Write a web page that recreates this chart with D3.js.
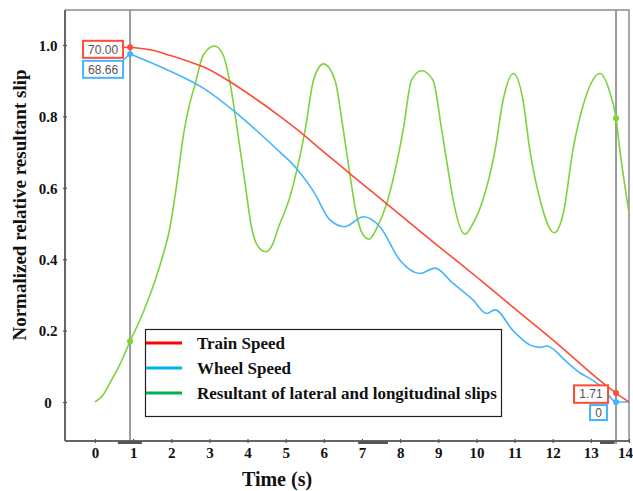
<!DOCTYPE html>
<html><head><meta charset="utf-8">
<script src="https://cdn.jsdelivr.net/npm/d3@7"></script>
<style>html,body{margin:0;padding:0;background:#fff;} svg{display:block}</style>
</head><body><svg id="chart" width="633" height="491"></svg>
<script>
// ---------- DATA ----------
const seriesNames = ["Train Speed", "Wheel Speed", "Resultant of lateral and longitudinal slips"];
const xTickValues = [0,1,2,3,4,5,6,7,8,9,10,11,12,13,14];
const yTickValues = [0,0.2,0.4,0.6,0.8,1.0];
const yTickLabels = ["0","0.2","0.4","0.6","0.8","1.0"];

const trainT = [0.92,1.51,1.96,2.42,2.84,3.54,4.23,4.85,5.37,5.90,6.68,7.65,9.04,9.56,10.10,11.07,12.08,13.33,13.66,14.0];
const trainV = [0.9935,0.985,0.971,0.955,0.939,0.897,0.848,0.80,0.757,0.709,0.64,0.555,0.433,0.389,0.342,0.256,0.167,0.052,0.025,0.0];

const wheelT = [0.92,1.41,1.96,2.84,3.71,4.85,5.11,5.37,5.73,6.16,6.55,7.04,7.47,7.99,8.52,8.91,9.39,9.91,10.27,10.49,10.96,11.40,11.67,11.84,12.36,12.71,12.97,13.33,13.66,14.0];
const wheelV = [0.975,0.953,0.927,0.879,0.809,0.70,0.674,0.643,0.59,0.51,0.491,0.519,0.491,0.398,0.36,0.375,0.332,0.286,0.248,0.258,0.20,0.16,0.153,0.157,0.113,0.082,0.066,0.038,0.0,0.0];

const slipT = [0,0.2,0.4,0.65,0.92,1.26,1.51,1.75,1.96,2.13,2.32,2.47,2.62,2.84,3.13,3.36,3.55,3.75,3.94,4.11,4.28,4.48,4.65,4.80,5.11,5.51,5.73,5.99,6.29,6.51,6.68,6.85,7.02,7.19,7.40,7.65,8.08,8.30,8.56,8.86,9.09,9.30,9.39,9.70,9.91,10.17,10.49,10.70,10.97,11.22,11.40,11.67,12.04,12.28,12.53,12.84,13.24,13.49,13.66,13.76,14.0];
const slipV = [0,0.018,0.055,0.105,0.17,0.25,0.32,0.40,0.486,0.60,0.748,0.83,0.888,0.972,0.997,0.972,0.888,0.748,0.608,0.486,0.435,0.421,0.44,0.486,0.574,0.762,0.902,0.947,0.902,0.762,0.64,0.528,0.47,0.456,0.49,0.557,0.762,0.902,0.928,0.902,0.762,0.622,0.566,0.47,0.50,0.566,0.706,0.846,0.92,0.846,0.706,0.566,0.474,0.53,0.706,0.846,0.92,0.87,0.795,0.706,0.53];

const cursorTimes = [0.92, 13.66];
const leftLabels = ["70.00", "68.66"];
const rightLabels = ["1.71", "0"];
const axisBars = [[0.6,1.23],[6.9,7.68],[13.24,13.62]];

// ---------- STYLE ----------
const curveColors = ["#ff4b36", "#45b4ff", "#7ed23a"];
const legendColors = ["#ff0000", "#00b0f0", "#00b050"];
const serif = "'Liberation Serif','Times New Roman',serif";
const sans = "'Liberation Sans',Arial,sans-serif";

const svg = d3.select("#chart");
const L = 65, R = 629, T = 10, B = 441;
const x = d3.scaleLinear().domain([-0.786, 14]).range([L, R]);
const y = d3.scaleLinear().domain([-0.1092, 1.098]).range([B, T]);

// frame top/right
svg.append("path").attr("d", `M${L},${T}H${R}V${B}`).attr("fill","none").attr("stroke","#8a8a8a").attr("stroke-width",1.5);

// cursor lines
cursorTimes.forEach(t => {
  svg.append("line").attr("x1", x(t)).attr("x2", x(t)).attr("y1", T).attr("y2", B+3)
    .attr("stroke", "#9a9a9a").attr("stroke-width", 2);
});

// series
const series = [
  trainT.map((t,i)=>({t, v: trainV[i]})),
  wheelT.map((t,i)=>({t, v: wheelV[i]})),
  slipT.map((t,i)=>({t, v: slipV[i]}))
];
const line = d3.line().x(d=>x(d.t)).y(d=>y(d.v)).curve(d3.curveMonotoneX);
svg.append("clipPath").attr("id","plotclip").append("rect").attr("x",L).attr("y",T).attr("width",R-L).attr("height",B-T);
[2,1,0].forEach(i => {
  svg.append("path").datum(series[i]).attr("d", line).attr("fill","none")
    .attr("stroke", curveColors[i]).attr("stroke-width", 1.6).attr("clip-path","url(#plotclip)");
});

// axes
const xAxis = d3.axisBottom(x).tickValues(xTickValues).tickFormat(d3.format("d")).tickSize(4).tickSizeOuter(0);
const gx = svg.append("g").attr("transform", `translate(0,${B})`).call(xAxis);
gx.select(".domain").attr("stroke","#666").attr("stroke-width",2).attr("d", `M${L},0H${R}`);
gx.selectAll(".tick line").attr("y1",-2).attr("y2",2).attr("stroke","#555").attr("stroke-width",1.2);
gx.selectAll(".tick text").attr("y",17).attr("dy","0").attr("font-family",serif).attr("font-weight","bold").attr("font-size",15).attr("fill","#111")
  .attr("dx", d => d === 14 ? -4 : 0);

const yAxis = d3.axisLeft(y).tickValues(yTickValues).tickFormat((d,i)=>yTickLabels[i]).tickSize(4).tickSizeOuter(0);
const gy = svg.append("g").attr("transform", `translate(${L},0)`).call(yAxis);
gy.select(".domain").attr("stroke","#666").attr("stroke-width",2).attr("d", `M0,${T}V${B}`);
gy.selectAll(".tick line").attr("x1",-2).attr("x2",2).attr("stroke","#555").attr("stroke-width",1.2);
gy.selectAll(".tick text").attr("x",-17).attr("dy","0.35em").attr("text-anchor","middle").attr("font-family",serif).attr("font-weight","bold").attr("font-size",15).attr("fill","#111");

// dark bars on x axis
axisBars.forEach(b => {
  svg.append("rect").attr("x", x(b[0])).attr("y", B).attr("width", x(b[1])-x(b[0])).attr("height", 3).attr("fill","#555");
});

// axis titles
svg.append("text").attr("transform","translate(26,205) rotate(-90)").attr("text-anchor","middle")
  .attr("font-family",serif).attr("font-weight","bold").attr("font-size",19).attr("fill","#111")
  .text("Normalized relative resultant slip");
svg.append("text").attr("x",277).attr("y",486).attr("text-anchor","middle")
  .attr("font-family",serif).attr("font-weight","bold").attr("font-size",20).attr("fill","#111")
  .text("Time (s)");

// markers at cursors
function valueAt(s, t){ const p = s.find(d => Math.abs(d.t - t) < 1e-6); return p ? p.v : null; }
cursorTimes.forEach((t,ci) => {
  series.forEach((s,i) => {
    const v = valueAt(s,t);
    if (v !== null) {
      svg.append("circle").attr("cx", x(t)).attr("cy", y(v)).attr("r", 3).attr("fill", curveColors[i]);
    }
  });
});

// value boxes
function box(cxRight, cyCenter, w, h, color, label){
  const g = svg.append("g");
  g.append("rect").attr("x", cxRight - w).attr("y", cyCenter - h/2).attr("width", w).attr("height", h)
    .attr("fill","#fff").attr("stroke", color).attr("stroke-width", 2);
  g.append("text").attr("x", cxRight - w/2).attr("y", cyCenter).attr("dy","0.36em").attr("text-anchor","middle")
    .attr("font-family", sans).attr("font-size", 12).attr("fill","#555").text(label);
}
const c1 = x(cursorTimes[0]), c2 = x(cursorTimes[1]);
const redL = y(valueAt(series[0], cursorTimes[0]));
const blueL = y(valueAt(series[1], cursorTimes[0]));
svg.append("line").attr("x1", c1-7).attr("x2", c1).attr("y1", redL).attr("y2", redL).attr("stroke", curveColors[0]).attr("stroke-width",1.5);
svg.append("line").attr("x1", c1-7).attr("x2", c1).attr("y1", redL+13).attr("y2", blueL).attr("stroke", curveColors[1]).attr("stroke-width",1.5);
box(c1-7, redL+2, 40, 17, curveColors[0], leftLabels[0]);
box(c1-7, redL+22, 40, 17, curveColors[1], leftLabels[1]);
const redR = y(valueAt(series[0], cursorTimes[1]));
box(c2-8, redR+1, 34, 17.5, curveColors[0], rightLabels[0]);
box(c2-9, redR+19.5, 17, 15, curveColors[1], rightLabels[1]);

// legend
const lg = svg.append("g");
lg.append("rect").attr("x",145.5).attr("y",329.5).attr("width",356).attr("height",87)
  .attr("fill","#fff").attr("stroke","#222").attr("stroke-width",1.2);
const legY = [343, 368, 393];
seriesNames.forEach((n,i) => {
  lg.append("line").attr("x1",146).attr("x2",182).attr("y1",legY[i]).attr("y2",legY[i]).attr("stroke",legendColors[i]).attr("stroke-width",3);
  lg.append("text").attr("x",197).attr("y",legY[i]+5.5).attr("font-family",serif).attr("font-weight","bold")
    .attr("font-size",17).attr("fill","#111").text(n);
});
</script>
</body></html>
